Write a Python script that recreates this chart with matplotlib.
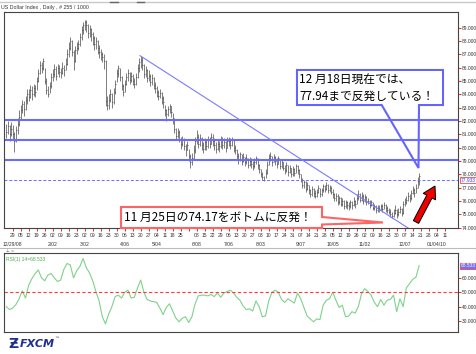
import numpy as np
import pandas as pd
import matplotlib
matplotlib.use("Agg")
import matplotlib.pyplot as plt
from matplotlib.lines import Line2D
from matplotlib.patches import Polygon, FancyArrow
from matplotlib.transforms import IdentityTransform, blended_transform_factory

plt.rcParams['font.family'] = ['Noto Sans CJK JP', 'DejaVu Sans']

W, H = 477, 354
SMALL = 'Liberation Sans'

# daily bars, US Dollar Index, Dec 2008 - Dec 18 2009 (one row per week)
closes = [
    81.2, 81.6, 81.0, 81.4,
    81.0, 80.5, 81.3, 81.8, 82.3,
    82.8, 83.3, 82.9, 83.6, 84.0,
    83.8, 84.3, 84.0, 84.5, 84.2,
    85.0, 85.6, 86.2, 86.0, 86.5,
    85.0, 84.3, 84.0, 84.6, 85.3,
    85.5, 85.9, 85.4, 86.0, 85.7,
    85.6, 86.0, 85.8, 86.3, 87.0,
    87.5, 88.0, 87.2, 86.5, 87.3,
    87.5, 87.8, 88.3, 88.8, 89.2,
    89.4, 89.2, 88.6, 88.9, 88.5,
    88.2, 87.8, 88.0, 87.5, 87.2,
    87.0, 86.8, 86.5, 83.5, 83.2,
    83.6, 84.0, 83.4, 84.2, 84.8,
    85.6, 86.0, 85.3, 84.6, 84.2,
    84.8, 85.3, 85.6, 85.1, 85.4,
    85.0, 84.8, 85.3, 86.0, 86.4,
    86.6, 86.2, 85.5, 85.8, 85.2,
    85.4, 84.9, 85.2, 84.7, 84.5,
    84.2, 83.9, 84.1, 83.7, 83.4,
    82.8, 82.5, 82.9, 83.1, 82.7,
    82.2, 81.4, 80.9, 81.2, 80.6,
    80.3, 80.6, 80.1, 79.8, 80.2,
    79.4, 78.9, 79.2, 79.8, 80.5,
    80.8, 80.3, 80.7, 80.2, 79.9,
    80.4, 80.1, 80.6, 80.3, 80.8,
    80.5, 80.2, 79.9, 80.3, 80.1,
    80.6, 80.2, 80.4, 80.0, 80.5,
    80.5, 80.2, 80.6, 80.0, 79.8,
    79.4, 79.1, 79.5, 79.0, 79.3,
    78.9, 79.2, 78.7, 79.0, 78.8,
    78.6, 78.9, 79.2, 78.7, 78.4,
    78.0, 77.8, 77.6, 78.1, 78.7,
    79.2, 79.4, 78.9, 79.3, 79.0,
    78.8, 79.2, 78.6, 78.9, 78.5,
    78.3, 78.7, 78.2, 78.5, 78.0,
    78.4, 78.1, 78.6, 78.3, 78.0,
    77.6, 77.2, 77.4, 76.9, 77.2,
    76.8, 76.5, 76.9, 76.6, 76.4,
    76.7, 77.0, 76.5, 76.8, 77.1,
    76.9, 77.2, 76.8, 77.0, 76.7,
    76.5, 76.2, 76.4, 75.9, 76.2,
    75.8, 76.0, 75.6, 75.9, 75.7,
    75.6, 75.9, 75.7, 76.0, 75.8,
    76.2, 76.5, 76.1, 76.4, 76.0,
    76.3, 75.9, 76.0, 75.7, 75.9,
    75.5, 75.6, 75.3, 75.5, 75.4,
    75.6, 75.4, 75.7, 75.5, 75.3,
    75.2, 75.0, 74.9, 75.1, 75.3,
    75.0, 75.2, 75.4, 75.1, 75.8,
    75.9, 76.1, 76.4, 76.2, 76.6,
    76.8, 76.6, 77.0, 77.5, 77.9,
]
highs = [
    81.8, 82.0, 81.7, 81.9,
    81.7, 81.2, 81.6, 82.2, 82.8,
    83.2, 83.6, 83.5, 83.9, 84.4,
    84.4, 84.7, 84.6, 84.8, 84.7,
    85.3, 85.9, 86.5, 86.4, 86.7,
    86.0, 85.2, 84.6, 84.9, 85.6,
    85.9, 86.3, 86.1, 86.3, 86.2,
    86.0, 86.4, 86.2, 86.7, 87.4,
    87.9, 88.3, 88.1, 87.3, 87.6,
    87.9, 88.1, 88.6, 89.1, 89.4,
    89.6, 89.6, 89.3, 89.2, 89.0,
    88.7, 88.4, 88.3, 88.1, 87.7,
    87.4, 87.2, 87.0, 86.6, 83.9,
    84.0, 84.4, 84.1, 84.5, 85.1,
    85.9, 86.2, 86.0, 85.4, 84.8,
    85.1, 85.6, 85.9, 85.7, 85.7,
    85.5, 85.2, 85.6, 86.3, 86.7,
    86.9, 86.8, 86.3, 86.1, 85.9,
    85.8, 85.5, 85.5, 85.3, 84.9,
    84.6, 84.3, 84.4, 84.2, 83.9,
    83.2, 82.9, 83.1, 83.3, 83.1,
    82.6, 82.1, 81.5, 81.5, 81.3,
    80.8, 80.9, 80.7, 80.3, 80.5,
    79.9, 79.5, 79.6, 80.2, 80.8,
    81.3, 81.0, 81.0, 80.8, 80.4,
    80.7, 80.6, 80.9, 80.8, 81.1,
    81.0, 80.7, 80.4, 80.6, 80.5,
    80.9, 80.8, 80.7, 80.5, 80.8,
    80.8, 80.7, 80.8, 80.6, 80.2,
    79.9, 79.6, 79.7, 79.5, 79.6,
    79.3, 79.5, 79.2, 79.3, 79.2,
    79.0, 79.2, 79.4, 79.2, 78.8,
    78.4, 78.2, 77.9, 78.4, 79.0,
    79.5, 79.7, 79.4, 79.5, 79.4,
    79.2, 79.4, 79.1, 79.1, 78.9,
    78.7, 78.9, 78.7, 78.7, 78.5,
    78.6, 78.5, 78.8, 78.7, 78.4,
    78.0, 77.7, 77.6, 77.5, 77.4,
    77.2, 76.9, 77.1, 77.0, 76.8,
    76.9, 77.2, 77.0, 77.0, 77.3,
    77.2, 77.4, 77.3, 77.2, 77.1,
    76.9, 76.6, 76.6, 76.5, 76.4,
    76.3, 76.2, 76.1, 76.1, 76.0,
    75.9, 76.1, 76.0, 76.3, 76.1,
    76.5, 76.8, 76.6, 76.7, 76.5,
    76.5, 76.4, 76.2, 76.1, 76.1,
    75.9, 75.8, 75.7, 75.7, 75.7,
    75.8, 75.8, 75.9, 75.8, 75.6,
    75.5, 75.4, 75.2, 75.4, 75.7,
    75.4, 75.5, 75.6, 75.5, 76.0,
    76.2, 76.4, 76.7, 76.5, 76.8,
    77.1, 77.0, 77.3, 77.8, 78.1,
]
lows = [
    80.7, 81.0, 80.5, 80.9,
    80.6, 79.7, 80.4, 81.0, 81.6,
    82.1, 82.6, 82.4, 82.8, 83.3,
    83.5, 83.7, 83.6, 83.9, 83.8,
    84.3, 84.9, 85.5, 85.6, 85.8,
    84.8, 84.0, 83.8, 84.1, 84.5,
    85.0, 85.3, 85.1, 85.5, 85.3,
    85.2, 85.5, 85.4, 85.8, 86.2,
    86.8, 87.3, 86.9, 85.8, 86.4,
    87.0, 87.3, 87.6, 88.1, 88.5,
    88.8, 88.7, 88.2, 88.3, 88.0,
    87.7, 87.3, 87.4, 87.0, 86.7,
    86.6, 86.4, 85.9, 83.1, 82.8,
    82.9, 83.4, 83.0, 83.3, 84.0,
    84.9, 85.3, 85.0, 84.3, 83.9,
    84.2, 84.7, 85.0, 84.8, 84.9,
    84.7, 84.5, 84.7, 85.2, 85.7,
    86.0, 85.8, 85.2, 85.3, 84.9,
    85.0, 84.6, 84.7, 84.4, 84.1,
    83.8, 83.6, 83.7, 83.3, 83.0,
    82.4, 82.0, 82.4, 82.6, 82.3,
    81.8, 81.1, 80.6, 80.7, 80.4,
    79.9, 80.1, 79.8, 79.4, 79.8,
    79.0, 78.5, 78.7, 79.1, 79.6,
    80.3, 80.0, 80.1, 79.8, 79.6,
    79.8, 79.8, 80.0, 80.0, 80.3,
    80.1, 79.8, 79.6, 79.8, 79.7,
    80.0, 79.9, 80.0, 79.7, 80.0,
    80.1, 79.9, 80.1, 79.7, 79.5,
    79.1, 78.8, 79.0, 78.7, 78.9,
    78.6, 78.8, 78.5, 78.6, 78.5,
    78.3, 78.5, 78.8, 78.4, 78.1,
    77.8, 77.6, 77.5, 77.7, 78.0,
    78.7, 79.0, 78.6, 78.9, 78.7,
    78.5, 78.8, 78.4, 78.5, 78.3,
    78.0, 78.2, 77.9, 78.1, 77.8,
    77.9, 77.9, 78.1, 78.0, 77.7,
    77.4, 77.0, 77.0, 76.7, 76.8,
    76.5, 76.3, 76.4, 76.3, 76.2,
    76.3, 76.6, 76.3, 76.4, 76.7,
    76.7, 76.8, 76.6, 76.7, 76.5,
    76.2, 76.0, 76.0, 75.7, 75.8,
    75.6, 75.6, 75.4, 75.5, 75.4,
    75.3, 75.5, 75.4, 75.6, 75.5,
    75.8, 76.1, 75.9, 76.0, 75.8,
    75.9, 75.7, 75.8, 75.5, 75.6,
    75.3, 75.3, 75.1, 75.2, 75.2,
    75.3, 75.2, 75.4, 75.2, 75.1,
    75.0, 74.8, 74.7, 74.8, 75.0,
    74.7, 74.9, 75.1, 74.9, 75.0,
    75.6, 75.8, 76.0, 75.9, 76.1,
    76.5, 76.3, 76.6, 77.0, 77.2,
]

# RSI(14), one reading every 2 trading days
rsi = [
    40, 38, 39, 41.5, 45.5, 51, 46, 55, 59.5, 63, 65.5, 60, 58, 62, 63, 60,
    57.5, 58.5, 66, 70, 69, 60, 65, 68, 73.5, 67, 63.5, 58, 50.5, 44, 33, 28,
    35, 40, 47, 48, 46, 50, 51.5, 46, 46.5, 53, 58.5, 50, 45, 44, 43.5, 43,
    39, 34.5, 39.5, 42, 37, 32, 29.5, 32, 33, 29, 33, 42, 47.5, 48, 48, 47.5,
    48.5, 47, 49.5, 46.5, 49.5, 50.5, 51.5, 49.5, 46.5, 44.5, 40.5, 38, 38.5,
    37, 44, 40, 33, 33.5, 44, 50, 51.5, 50, 45, 43, 45.5, 44, 42.5, 49.5, 45.5,
    39.5, 33.5, 31.5, 29.5, 31.5, 31, 41, 44.5, 45.5, 50, 44.5, 39.5, 41, 33,
    33.5, 36.5, 35.5, 40, 49, 52.5, 50.5, 48, 43, 40, 45, 41, 44.5, 45, 48,
    36.5, 45.5, 40, 53, 56, 59, 60.5, 68.53,
]

levels = [82.05, 80.55, 79.05]
last_level = 77.55
trend_start = (79.6, 86.9)
trend_end = (262, 72.82)

# weekly ticks, Monday dates starting 12/29/08
mondays = pd.date_range('2008-12-29', periods=55, freq='7D')
day_labels = [d.strftime('%d') for d in mondays]
day_labels[22] = ''
month_weeks = [0, 5, 9, 14, 18, 23, 27, 31, 36, 40, 44, 49, 53]
month_labels = ['12/29/08', '2/02', '3/02', '4/06', '5/04', '6/08', '7/06',
                '8/03', '9/07', '10/05', '11/02', '12/07', '01/04/10']

idx = np.arange(len(closes)) - 4
rsi_idx = np.arange(len(rsi)) * 2 - 4
xlim = (-5.44, 278.3)


def px(x, y):
    return x, H - y


fig = plt.figure(figsize=(W / 100, H / 100), dpi=100)
fig.patch.set_facecolor('white')
ident = IdentityTransform()

# ---- price panel
ax = fig.add_axes([4 / W, 1 - 228 / H, 454 / W, 216 / H])
ax.vlines(idx, lows, highs, color='#7c7c7c', lw=0.7)
ax.hlines(closes, idx, idx + 0.7, color='#3a3a3a', lw=0.5)
for lv in levels:
    ax.axhline(lv, color='#6b6bff', lw=1.5)
ax.axhline(last_level, color='#6b6bff', lw=0.7, ls=(0, (3, 2)))
ax.plot([trend_start[0], trend_end[0]], [trend_start[1], trend_end[1]],
        color='#7a7aff', lw=0.8)
ax.set_xlim(*xlim)
ax.set_ylim(73.97, 90.18)
ax.yaxis.tick_right()
yt = np.arange(74, 90)
ax.set_yticks(yt)
ax.set_yticklabels([f'{v:.3f}' for v in yt])
ax.tick_params(axis='y', colors='red', labelcolor='#333333', length=2.2,
               width=0.6, labelsize=3.5, pad=0.8, labelfontfamily=SMALL)
ax.set_xticks(np.arange(55) * 5)
ax.set_xticklabels(day_labels)
ax.tick_params(axis='x', colors='red', labelcolor='#333333', length=2,
               width=0.6, labelsize=3.6, pad=1.8, labelfontfamily=SMALL)
for s in ax.spines.values():
    s.set_color('#444444')
    s.set_linewidth(0.8)
for w, lab in zip(month_weeks, month_labels):
    ax.annotate(lab, xy=(w * 5, 0), xycoords=('data', 'axes fraction'),
                xytext=(0, -16), textcoords='offset pixels', ha='center',
                va='center', fontsize=3.6, color='#333333', family=SMALL)
bt = blended_transform_factory(ax.transAxes, ax.transData)
ax.text(1.006, last_level, '77.933', transform=bt, fontsize=3.5,
        color='#3a3aff', va='center', family=SMALL,
        bbox=dict(boxstyle='square,pad=0.12', fc='white', ec='#ff4040', lw=0.6))

# ---- RSI panel
ax2 = fig.add_axes([4 / W, 1 - 332 / H, 454 / W, 79 / H])
ax2.plot(rsi_idx, rsi, color='#7fd28a', lw=0.8)
ax2.axhline(50, color='#ff3b3b', lw=0.8, ls=(0, (3, 2)))
ax2.set_xlim(*xlim)
ax2.set_ylim(22.4, 77.3)
ax2.set_xticks([])
ax2.yaxis.tick_right()
ax2.set_yticks([30, 40, 50, 60])
ax2.set_yticklabels(['30.000', '40.000', '50.000', '60.000'])
ax2.tick_params(axis='y', colors='red', labelcolor='#333333', length=2.2,
                width=0.6, labelsize=3.5, pad=0.8, labelfontfamily=SMALL)
for s in ax2.spines.values():
    s.set_color('#444444')
    s.set_linewidth(0.8)
bt2 = blended_transform_factory(ax2.transAxes, ax2.transData)
ax2.text(1.006, rsi[-1], '68.533', transform=bt2, fontsize=3.5,
         color='white', va='center', family=SMALL,
         bbox=dict(boxstyle='square,pad=0.12', fc='#7070ff', ec='#ff4040', lw=0.6))
ax2.text(0.005, 0.95, 'RSI(1) 14=68.533', transform=ax2.transAxes,
         fontsize=3.6, color='#4caf50', va='top', family=SMALL)

# ---- frame decorations
fig.text(1 / W, 1 - 7 / H, 'US Dollar Index , Daily , # 255 / 1000',
         fontsize=3.8, color='#333333', va='center', family=SMALL)
fig.add_artist(Line2D([0, W], [H - 2, H - 2], color='#c8c8c8', lw=1.0,
                      transform=ident))
for x0, x1 in [(110, 118), (137, 144)]:
    fig.add_artist(Line2D([x0, x1], [H - 2, H - 2], color='#666666', lw=1.0,
                          transform=ident))
fig.add_artist(Line2D([475.5, 475.5], [H - 10, H - 336], color='#aaaaaa',
                      lw=0.8, transform=ident))
fig.add_artist(Line2D([0, 475.5], [H - 248, H - 248], color='#bbbbbb', lw=0.8,
                      transform=ident))
fig.text(6 / W, 1 - 250.5 / H, '⊥ =', fontsize=3, color='#555555',
         va='center', family='DejaVu Sans')

# ---- callouts
blue_box = [px(297, 70), px(443, 70), px(443, 105), px(419, 105),
            px(418.5, 168), px(381.7, 105), px(297, 105)]
fig.add_artist(Polygon(blue_box, closed=True, fc='none', ec='#6464ff',
                       lw=1.5, transform=ident))
fig.add_artist(Polygon([px(298, 71), px(442, 71), px(442, 104), px(298, 104)],
                       closed=True, fc='white', ec='none', transform=ident))
fig.text(299 / W, 1 - 79 / H, '12 月18日現在では、', fontsize=8.5,
         va='center', color='black')
fig.text(299 / W, 1 - 96 / H, '77.94まで反発している！', fontsize=8.5,
         va='center', color='black')

red_box = [px(121, 207), px(322, 207), px(322, 217), px(383, 222.5),
           px(322, 224.5), px(322, 228), px(121, 228)]
fig.add_artist(Polygon(red_box, closed=True, fc='white', ec='#ff6464',
                       lw=1.5, transform=ident))
fig.text(124 / W, 1 - 217.5 / H, '11 月25日の74.17をボトムに反発！',
         fontsize=8.5, va='center', color='black')

# red arrow
tx, ty = px(416, 222)
hx, hy = px(435, 186)
fig.add_artist(FancyArrow(tx, ty, hx - tx, hy - ty, width=6, head_width=14,
                          head_length=12, length_includes_head=True,
                          fc='#ee0000', ec='black', lw=0.7, transform=ident))

# ---- logo
fig.text(13 / W, 1 - 344 / H, 'Ƶ', fontsize=10, fontweight='bold',
         color='#1f2f8f', ha='center', va='center', family='DejaVu Sans')
fig.text(20 / W, 1 - 344 / H, 'FXCM', fontsize=8, fontweight='bold',
         style='italic', color='#1f2f8f', va='center', family='DejaVu Sans')
fig.text(54 / W, 1 - 339 / H, '™', fontsize=3.5, color='#1f2f8f',
         va='center', family='DejaVu Sans')

fig.savefig('out.png', dpi=100)
